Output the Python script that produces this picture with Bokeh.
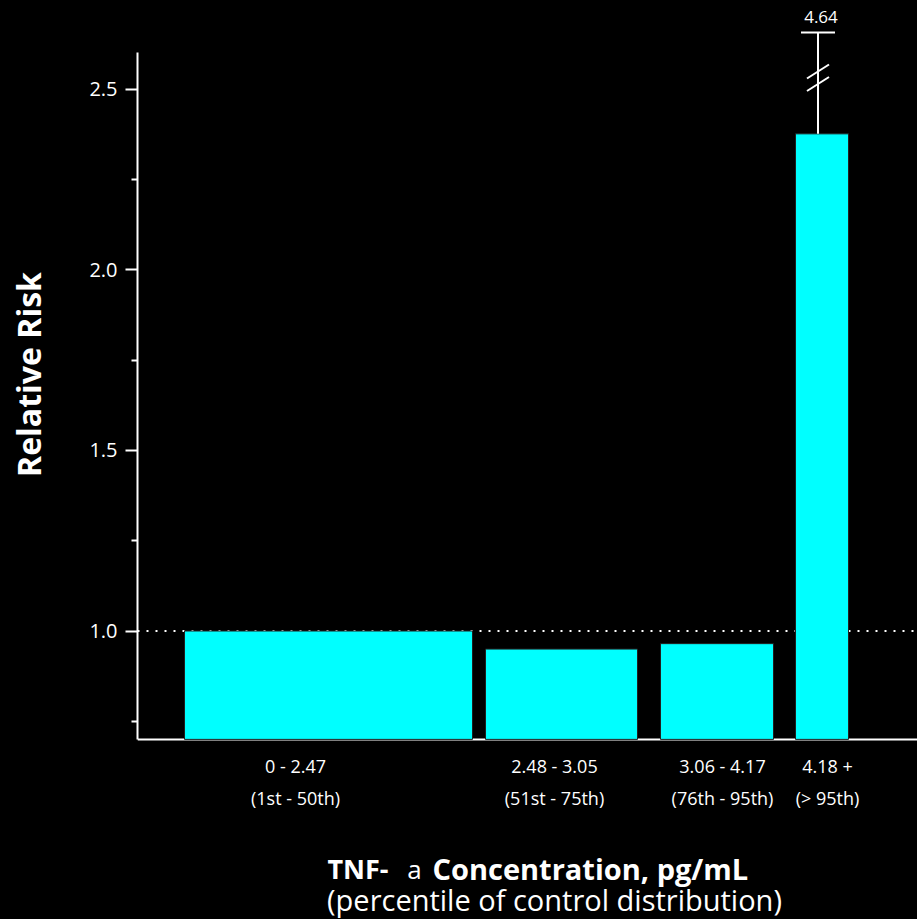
from bokeh.plotting import figure
from bokeh.layouts import column
from bokeh.models import Range1d, FixedTicker, ColumnDataSource, PrintfTickFormatter
from bokeh.core.properties import value
from bokeh.embed import file_html
from bokeh.resources import INLINE

# ---- data ----
conc_labels = ["0 - 2.47", "2.48 - 3.05", "3.06 - 4.17", "4.18 +"]
pct_labels = ["(1st - 50th)", "(51st - 75th)", "(76th - 95th)", "(> 95th)"]
relative_risk = [1.00, 0.95, 0.965, 2.376]
upper_ci_label = "4.64"          # upper CI of last group (axis broken)
y_ticks = [1.0, 1.5, 2.0, 2.5]
y_minor = [0.75, 1.25, 1.75, 2.25]

# ---- layout (x units = pixels from the y axis) ----
bar_left = [47, 348, 523, 658]
bar_right = [335, 500, 636, 711]
label_x = [158, 417, 585, 690]
base = 0.70
axis_top = 2.6
break_top = 2.6565

PX = 361.3  # pixels per unit
SPLIT = 748  # pixel row where the upper figure ends

def v(yref):
    return 1.0 + (630.5 - yref) / PX

FONT = value("Open Sans")
CYAN = "#00FFFF"

common = dict(width=917, output_backend="svg", toolbar_location=None,
              x_range=Range1d(0, 780), x_axis_location=None,
              min_border_left=137, min_border_right=0, min_border_top=0,
              min_border_bottom=0, background_fill_color="black",
              border_fill_color="black")

p = figure(height=SPLIT, y_range=Range1d(v(SPLIT), v(0)), **common)
p.outline_line_color = None
p.grid.visible = False

ax = p.yaxis[0]
ax.bounds = (base, axis_top)
ax.ticker = FixedTicker(ticks=y_ticks, minor_ticks=y_minor)
ax.formatter = PrintfTickFormatter(format="%.1f")
ax.axis_line_color = "white"
ax.axis_line_width = 2
ax.major_tick_line_color = "white"
ax.major_tick_line_width = 2
ax.major_tick_out = 12
ax.major_tick_in = 0
ax.minor_tick_line_color = "white"
ax.minor_tick_line_width = 2
ax.minor_tick_out = 6
ax.minor_tick_in = 0
ax.major_label_text_color = "white"
ax.major_label_text_font = "Open Sans"
ax.major_label_text_font_size = "20px"
ax.major_label_standoff = 8
ax.axis_label = "Relative Risk"
ax.axis_label_text_font = "Open Sans"
ax.axis_label_text_font_size = "32px"
ax.axis_label_text_font_style = "bold"
ax.axis_label_text_color = "white"
ax.axis_label_standoff = 36

# reference line at 1.0
p.line(x=[0, 780], y=[1.0, 1.0], line_color="white", line_width=2, line_dash="2 7")
# x axis line
p.line(x=[0, 780], y=[base, base], line_color="white", line_width=2)

src = ColumnDataSource(dict(left=bar_left, right=bar_right, top=relative_risk,
                            bottom=[base] * 4))
p.quad(left="left", right="right", top="top", bottom="bottom", source=src,
       fill_color=CYAN, line_color="#202020", line_width=1)

# broken error bar for last group
cx = (bar_left[3] + bar_right[3]) / 2 - 4
p.segment(x0=[cx], y0=[relative_risk[3]], x1=[cx], y1=[break_top],
          line_color="white", line_width=2)
p.segment(x0=[cx - 17], y0=[break_top], x1=[cx + 17], y1=[break_top],
          line_color="white", line_width=2)
dy = 7 / PX
for yc in (v(71), v(83.5)):
    p.segment(x0=[cx - 11], y0=[yc - dy], x1=[cx + 11], y1=[yc + dy],
              line_color="white", line_width=2)
p.text(x=[cx + 3], y=[v(16.5)], text=[upper_ci_label], text_font=FONT,
       text_font_size="17px", text_color="white", text_align="center",
       text_baseline="middle")

# ---- lower strip: category labels and x title ----
q = figure(height=919 - SPLIT, y_range=Range1d(v(919), v(SPLIT)),
           y_axis_location=None, **common)
q.outline_line_color = None
q.grid.visible = False

q.text(x=label_x, y=[v(765)] * 4, text=conc_labels, text_font=FONT,
       text_font_size="18px", text_color="white", text_align="center",
       text_baseline="middle")
q.text(x=label_x, y=[v(797)] * 4, text=pct_labels, text_font=FONT,
       text_font_size="18px", text_color="white", text_align="center",
       text_baseline="middle")

q.text(x=[251], y=[v(868)], text=["TNF-"], text_font=FONT, text_font_size="27px",
       text_font_style="bold", text_color="white", text_align="right",
       text_baseline="alphabetic")
q.text(x=[277], y=[v(868)], text=["a"], text_font=FONT, text_font_size="26px",
       text_color="white", text_align="center", text_baseline="alphabetic")
q.text(x=[295], y=[v(868)], text=["Concentration, pg/mL"], text_font=FONT,
       text_font_size="29px", text_font_style="bold", text_color="white",
       text_align="left", text_baseline="alphabetic")
q.text(x=[417], y=[v(899)], text=["(percentile of control distribution)"],
       text_font=FONT, text_font_size="29px", text_color="white",
       text_align="center", text_baseline="alphabetic")

layout = column(p, q, spacing=0)
html = file_html(layout, INLINE)
html = html.replace("<head>", "<head><style>html,body{background:#000;}</style>", 1)
open("out.html", "w").write(html)
